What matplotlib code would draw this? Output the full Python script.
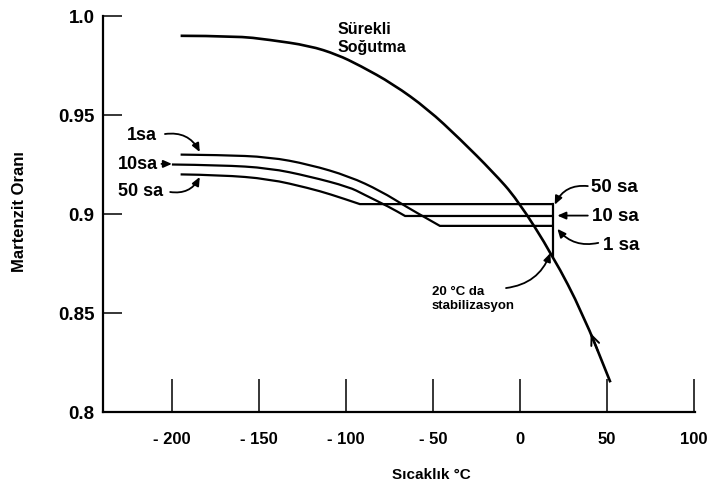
import matplotlib
matplotlib.use("Agg")
import matplotlib.pyplot as plt
from matplotlib.path import Path
from matplotlib.patches import PathPatch

plt.rcParams['font.family'] = ['Liberation Sans', 'DejaVu Sans']
plt.rcParams['font.weight'] = 'bold'

# ---- data ----
x_ticks = [-200, -150, -100, -50, 0, 50, 100]
x_tick_labels = ["- 200", "- 150", "- 100", "- 50", "0", "50", "100"]
y_ticks = [0.8, 0.85, 0.9, 0.95, 1.0]
y_tick_labels = ["0.8", "0.85", "0.9", "0.95", "1.0"]

# continuous cooling curve
cont_x = [-195, -163, -144, -121, -105, -92, -73, -53, -34.5, -15.5, -1.7, 19, 36, 52]
cont_y = [0.990, 0.9899, 0.9880, 0.9850, 0.9805, 0.9750, 0.9657, 0.953, 0.9379, 0.9212,
          0.9076, 0.8788, 0.850, 0.815]

# isothermal holds (last point = end of the flat part)
h1_x = [-195, -172, -144, -121, -98, -80, -65, -53, -46, 19]
h1_y = [0.930, 0.9298, 0.9288, 0.925, 0.919, 0.9116, 0.9035, 0.8975, 0.894, 0.894]
h10_x = [-200, -172, -144, -121, -98, -90, -75, -66, 19]
h10_y = [0.925, 0.9247, 0.9232, 0.919, 0.9136, 0.910, 0.9035, 0.899, 0.899]
h50_x = [-195, -172, -144, -121, -109, -92, 19]
h50_y = [0.920, 0.9197, 0.9177, 0.913, 0.910, 0.905, 0.905]

stab_x = 19
stab_top = 0.905
stab_bottom = 0.8788


def smooth_path(xs, ys, straight_tail=False):
    """Quadratic-Bezier path using the read points as control points."""
    pts = list(zip(xs, ys))
    tail = None
    if straight_tail:
        tail = pts[-1]
        pts = pts[:-1]
    verts = [pts[0]]
    codes = [Path.MOVETO]
    for i in range(1, len(pts) - 1):
        mid = ((pts[i][0] + pts[i + 1][0]) / 2, (pts[i][1] + pts[i + 1][1]) / 2)
        verts += [pts[i], mid]
        codes += [Path.CURVE3, Path.CURVE3]
    verts.append(pts[-1])
    codes.append(Path.LINETO)
    if tail is not None:
        verts.append(tail)
        codes.append(Path.LINETO)
    return Path(verts, codes)


fig = plt.figure(figsize=(7.08, 4.89), dpi=100)
ax = fig.add_axes([103/708, 1-413/489, (695-103)/708, (413-17)/489])

lw_main = 1.9
lw_hold = 1.6
ax.add_patch(PathPatch(smooth_path(cont_x, cont_y), fill=False, edgecolor='black',
                       lw=lw_main, capstyle='butt'))
for xs, ys in [(h1_x, h1_y), (h10_x, h10_y), (h50_x, h50_y)]:
    ax.add_patch(PathPatch(smooth_path(xs, ys, straight_tail=True), fill=False,
                           edgecolor='black', lw=lw_hold, joinstyle='miter'))
ax.plot([stab_x, stab_x], [stab_top, stab_bottom], color='black', lw=lw_hold)

ax.set_xlim(-239.6, 100.6)
ax.set_ylim(0.8, 1.0)
ax.set_xticks(x_ticks)
ax.set_xticklabels(x_tick_labels)
ax.set_yticks(y_ticks)
ax.set_yticklabels(y_tick_labels)
for s in ['top', 'right']:
    ax.spines[s].set_visible(False)
for s in ['left', 'bottom']:
    ax.spines[s].set_linewidth(1.6)
ax.tick_params(axis='x', direction='in', length=24, width=1.1, pad=14, labelsize=12)
ax.tick_params(axis='y', direction='in', length=14, width=1.1, pad=6, labelsize=13.5)
for lab in ax.get_xticklabels() + ax.get_yticklabels():
    lab.set_fontweight('bold')

ax.set_xlabel("Sıcaklık °C", fontsize=11, fontweight='bold')
ax.xaxis.set_label_coords(0.554, -0.139)
ax.set_ylabel("Martenzit Oranı", fontsize=12, fontweight='bold')
ax.yaxis.set_label_coords(-0.128, 0.5 + (215 - 212) / 396)

# texts
ax.text(-105, 0.9975, "Sürekli\nSoğutma", ha='left', va='top', fontsize=11.5,
        fontweight='bold', linespacing=1.25)
ax.text(-217, 0.9404, "1sa", ha='center', va='center', fontsize=13, fontweight='bold')
ax.text(-219.5, 0.9253, "10sa", ha='center', va='center', fontsize=13, fontweight='bold')
ax.text(-218, 0.9119, "50 sa", ha='center', va='center', fontsize=13, fontweight='bold')
ax.text(54, 0.9141, "50 sa", ha='center', va='center', fontsize=13.5, fontweight='bold')
ax.text(55, 0.8992, "10 sa", ha='center', va='center', fontsize=13.5, fontweight='bold')
ax.text(58, 0.8848, "1 sa", ha='center', va='center', fontsize=13.5, fontweight='bold')
ax.text(-50.6, 0.8576, "20 °C da\nstabilizasyon", ha='left', va='center', fontsize=9.5,
        fontweight='bold', linespacing=1.3)

astyle = dict(arrowstyle='-|>,head_length=0.5,head_width=0.22', color='black', lw=1.3,
              shrinkA=0, shrinkB=0)


def arr(xy_from, xy_to, rad):
    ax.annotate("", xy=xy_to, xytext=xy_from,
                arrowprops=dict(connectionstyle=f"arc3,rad={rad}", **astyle))


arr((-204, 0.9404), (-184, 0.9313), -0.35)
arr((-206, 0.9253), (-200, 0.9253), 0)
arr((-201, 0.9111), (-184, 0.9187), 0.35)
arr((39, 0.9141), (20, 0.9047), 0.35)
arr((39, 0.8992), (21.5, 0.8992), 0)
arr((45, 0.8854), (21.5, 0.8925), -0.3)
arr((-8, 0.8626), (17.5, 0.8803), 0.3)

# arrow on continuous cooling curve (pointing up along the curve)
f_tip, f_tail = 0.29, 0.55
ax.annotate("",
            xy=(cont_x[-2] + f_tip*(cont_x[-1]-cont_x[-2]), cont_y[-2] + f_tip*(cont_y[-1]-cont_y[-2])),
            xytext=(cont_x[-2] + f_tail*(cont_x[-1]-cont_x[-2]), cont_y[-2] + f_tail*(cont_y[-1]-cont_y[-2])),
            arrowprops=dict(arrowstyle='->,head_length=0.7,head_width=0.3', color='black', lw=1.4,
                            shrinkA=0, shrinkB=0))

fig.savefig("out.png", dpi=100)
